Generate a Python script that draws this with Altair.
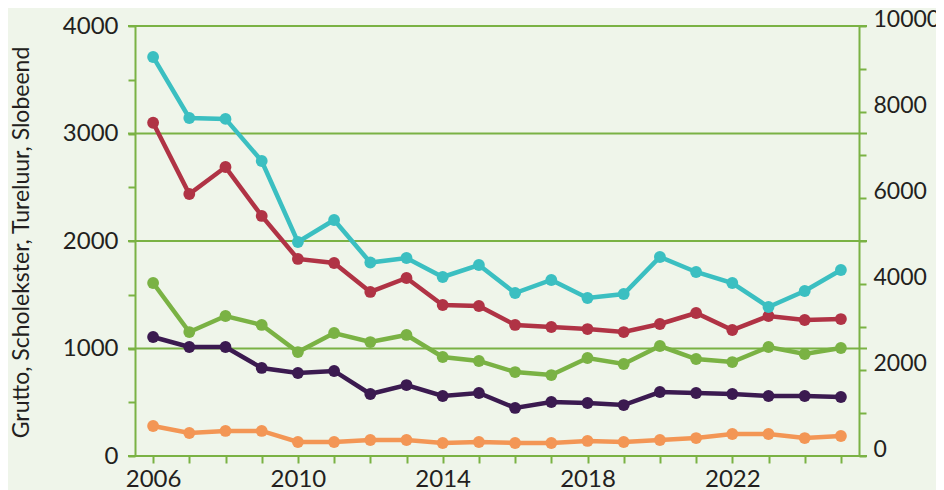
import altair as alt
import pandas as pd

years = list(range(2006, 2026))
grutto = [3100, 2437, 2688, 2233, 1833, 1795, 1526, 1656, 1405, 1395, 1219, 1200, 1181, 1153, 1228, 1330, 1172, 1302, 1265, 1274]
scholekster = [1609, 1153, 1302, 1219, 967, 1144, 1060, 1126, 921, 884, 781, 753, 912, 856, 1023, 902, 874, 1014, 949, 1005]
tureluur = [1107, 1014, 1014, 819, 772, 791, 577, 660, 558, 586, 447, 502, 493, 474, 595, 586, 577, 558, 558, 549]
slobeend = [279, 214, 233, 233, 130, 130, 149, 149, 121, 130, 121, 121, 140, 130, 149, 167, 205, 205, 167, 186]
kievit = [9280, 7860, 7840, 6860, 4977, 5488, 4500, 4605, 4163, 4442, 3790, 4093, 3674, 3767, 4628, 4279, 4023, 3465, 3837, 4326]

left_names = ["Tureluur", "Slobeend", "Scholekster", "Grutto"]
left_colors = ["#3b1a50", "#f39655", "#7ab244", "#b03345"]
kievit_color = "#3bbfc1"
grid_values = [0, 1000, 2000, 3000, 4000]

series = {"Grutto": grutto, "Scholekster": scholekster, "Tureluur": tureluur, "Slobeend": slobeend}
rows = []
for name in left_names:
    for y, v in zip(years, series[name]):
        rows.append({"jaar": y, "soort": name, "aantal": v})
left_df = pd.DataFrame(rows)
right_df = pd.DataFrame({"jaar": years, "aantal": kievit})
grid_df = pd.DataFrame({"waarde": grid_values})

W, H = 724, 430
GREEN = "#7ab244"
TEXT = "#231f20"
FONT = "Lato"

x_enc = alt.X(
    "jaar:Q",
    scale=alt.Scale(domain=[2005.5, 2025.5], nice=False, zero=False),
    axis=alt.Axis(
        values=years, format="d",
        labelExpr="(datum.value - 2006) % 4 == 0 ? datum.label : ''",
        title=None, domain=False, grid=False,
        tickColor=GREEN, tickWidth=2, tickSize=7,
        labelPadding=4, labelFontSize=24, labelColor=TEXT, labelFont=FONT,
    ),
)

left_axis = alt.Axis(
    orient="left", values=list(range(0, 4001, 500)), format="d",
    labelExpr="datum.value % 1000 == 0 ? datum.label : ''",
    domainColor=GREEN, domainWidth=2, tickColor=GREEN, tickWidth=2, tickSize=7,
    labelPadding=10, labelFontSize=24, labelColor=TEXT, labelFont=FONT,
    grid=False,
    title="Grutto, Scholekster, Tureluur, Slobeend",
    titleFont=FONT, titleFontSize=23, titleFontWeight="normal", titleColor=TEXT,
    titleX=-114, titleY=216, titleAngle=270, titleAlign="center", titleBaseline="middle",
)
left_scale = alt.Scale(domain=[0, 4000], nice=False)

rules = alt.Chart(grid_df).mark_rule(color=GREEN, strokeWidth=2).encode(
    y=alt.Y("waarde:Q", scale=left_scale, axis=left_axis),
    x=alt.value(-7),
    x2=alt.value(W + 8),
)

left_lines = alt.Chart(left_df).mark_line(
    strokeWidth=4.5,
    point=alt.OverlayMarkDef(size=140, filled=True, opacity=1),
).encode(
    x=x_enc,
    y=alt.Y("aantal:Q", scale=left_scale, axis=left_axis),
    color=alt.Color("soort:N", scale=alt.Scale(domain=left_names, range=left_colors), legend=None),
    detail="soort:N",
)

right_axis = alt.Axis(
    orient="right", values=list(range(0, 10001, 1000)), format="d",
    labelExpr="datum.value % 2000 == 0 ? datum.label : ''",
    domainColor=GREEN, domainWidth=2, tickColor=GREEN, tickWidth=2, tickSize=7,
    labelPadding=7, labelFontSize=23, labelColor=TEXT, labelFont=FONT,
    labelOffset=-7, grid=False, title=None,
)

right_lines = alt.Chart(right_df).mark_line(
    strokeWidth=4.5, color=kievit_color,
    point=alt.OverlayMarkDef(size=140, filled=True, opacity=1, color=kievit_color),
).encode(
    x=x_enc,
    y=alt.Y("aantal:Q", scale=alt.Scale(domain=[0, 10000], nice=False), axis=right_axis),
)

chart = alt.layer(
    alt.layer(rules, left_lines),
    right_lines,
).resolve_scale(y="independent").properties(
    width=W, height=H,
    autosize=alt.AutoSizeParams(type="none"),
    padding={"left": 127, "top": 18, "right": 77, "bottom": 40},
    background="#eff5ea",
).configure_view(stroke=None)

chart.save("out.html", embed_options={"renderer": "svg", "actions": False})
